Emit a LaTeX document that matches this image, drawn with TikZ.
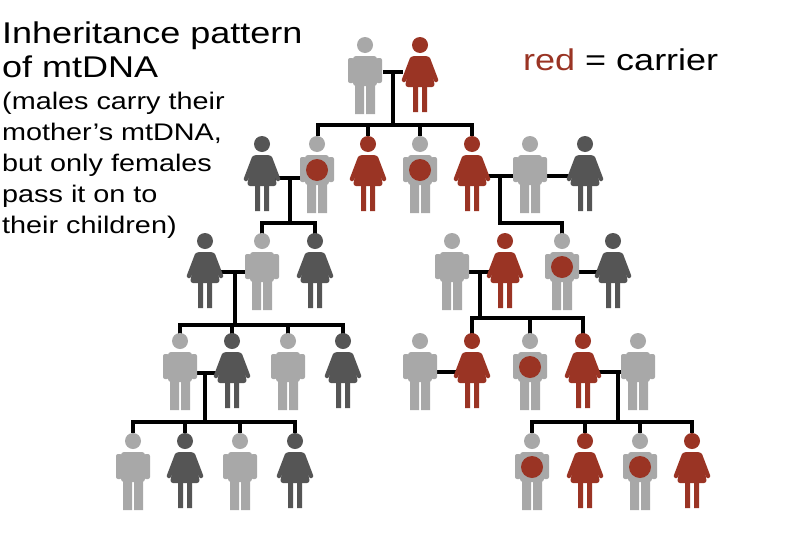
\documentclass[tikz,border=0pt]{standalone}
\usepackage{fontspec}
\setmainfont[FakeStretch=1.2]{Liberation Sans}
\definecolor{mgrey}{HTML}{A8A8A8}
\definecolor{fdark}{HTML}{555555}
\definecolor{cred}{HTML}{9A3424}
\begin{document}
\begin{tikzpicture}[x=1pt,y=-1pt,
  link/.style={line width=4pt,black},
  pics/fem/.style={code={
    \fill[#1] (0,9) circle (8);
    \fill[#1,rounded corners=3pt] (-9,20) -- (9,20) -- (15,51) -- (-15,51) -- cycle;
    \draw[#1,line width=4.5pt,line cap=round] (-8,23) -- (-16,44) (8,23) -- (16,44);
    \fill[#1] (-7,50) rectangle (-2,76) (2,50) rectangle (7,76);
  }},
  pics/mal/.style={code={
    \fill[mgrey] (0,9) circle (8);
    \fill[mgrey,rounded corners=3pt] (-12,20) rectangle (12,50);
    \fill[mgrey,rounded corners=2pt] (-17,22) rectangle (-11,47) (11,22) rectangle (17,47);
    \fill[mgrey] (-10,48) rectangle (-1,78) (1,48) rectangle (10,78);
    \ifx#1c\fill[cred] (0,35) circle (11);\fi
  }},
  pics/mal/.default=n
]
\useasboundingbox (0,0) rectangle (800,533);
\fill[white] (0,0) rectangle (800,533);
% text
\node[anchor=north west,inner sep=0,font=\fontsize{30}{34}\selectfont,align=left] (title) at (2,22) {Inheritance pattern\\of mtDNA};
\node[anchor=north west,inner sep=0,font=\fontsize{24}{31}\selectfont,align=left] (note) at (2,92) {(males carry their\\mother's mtDNA,\\but only females\\pass it on to\\their children)};
\node[anchor=west,inner sep=0,font=\fontsize{30}{34}\selectfont] (key) at (523,60) {\textcolor{cred}{red} = carrier};
% connectors
\draw[link] (383,72) -- (403,72) (393,72) -- (393,125) (318,125) -- (472,125);
\foreach \x in {318,368,420,472} \draw[link] (\x,123) -- (\x,136);
\draw[link] (274,178) -- (305,178) (290,178) -- (290,225) (262,223) -- (315,223);
\foreach \x in {262,315} \draw[link] (\x,221) -- (\x,234);
\draw[link] (484,176) -- (518,176) (500,176) -- (500,223) (498,223) -- (562,223) (562,221) -- (562,234);
\draw[link] (542,176) -- (573,176);
\draw[link] (217,272) -- (250,272) (235,272) -- (235,325) (180,325) -- (343,325);
\foreach \x in {180,232,288,343} \draw[link] (\x,323) -- (\x,334);
\draw[link] (464,272) -- (493,272) (480,272) -- (480,318) (472,318) -- (583,318);
\foreach \x in {472,530,583} \draw[link] (\x,316) -- (\x,334);
\draw[link] (572,272) -- (601,272);
\draw[link] (192,373) -- (220,373) (205,373) -- (205,422) (133,422) -- (295,422);
\foreach \x in {133,185,240,295} \draw[link] (\x,420) -- (\x,433);
\draw[link] (432,372) -- (460,372);
\draw[link] (595,372) -- (626,372) (618,372) -- (618,422) (532,422) -- (692,422);
\foreach \x in {532,585,640,692} \draw[link] (\x,420) -- (\x,433);
% figures
\pic at (365,36) {mal};
\pic at (420,36) {fem=cred};
\pic at (262,135) {fem=fdark};
\pic at (317,135) {mal=c};
\pic at (368,135) {fem=cred};
\pic at (420,135) {mal=c};
\pic at (472,135) {fem=cred};
\pic at (530,135) {mal};
\pic at (585,135) {fem=fdark};
\pic at (205,232) {fem=fdark};
\pic at (262,232) {mal};
\pic at (315,232) {fem=fdark};
\pic at (452,232) {mal};
\pic at (505,232) {fem=cred};
\pic at (562,232) {mal=c};
\pic at (613,232) {fem=fdark};
\pic at (180,332) {mal};
\pic at (232,332) {fem=fdark};
\pic at (288,332) {mal};
\pic at (343,332) {fem=fdark};
\pic at (420,332) {mal};
\pic at (472,332) {fem=cred};
\pic at (530,332) {mal=c};
\pic at (583,332) {fem=cred};
\pic at (638,332) {mal};
\pic at (133,432) {mal};
\pic at (185,432) {fem=fdark};
\pic at (240,432) {mal};
\pic at (295,432) {fem=fdark};
\pic at (532,432) {mal=c};
\pic at (585,432) {fem=cred};
\pic at (640,432) {mal=c};
\pic at (692,432) {fem=cred};
\end{tikzpicture}
\end{document}
